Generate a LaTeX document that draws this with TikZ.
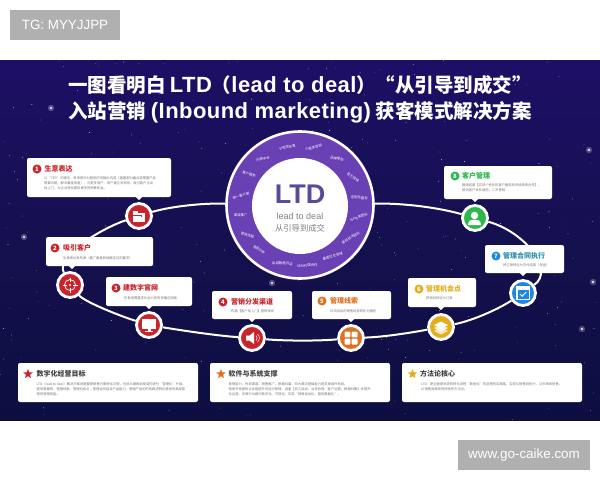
\documentclass[tikz,border=0pt]{standalone}
\usepackage{fontspec}
\usetikzlibrary{calc,shapes.geometric}
\setmainfont{Noto Sans CJK SC}
\newfontfamily\lat{Liberation Sans}
\newfontfamily\latwide[LetterSpace=2]{Liberation Sans}
\newcommand{\titlelat}[1]{{\latwide\fontsize{22}{24}\selectfont #1}}

\definecolor{nightTop}{HTML}{1D0F66}
\definecolor{nightMid}{HTML}{15104F}
\definecolor{nightLow}{HTML}{0C0E40}
\definecolor{ringPurple}{HTML}{6A41B4}
\definecolor{logoPurple}{HTML}{5A4A9C}
\definecolor{markGray}{HTML}{B0B0B0}
\definecolor{bodyGray}{HTML}{777777}
\definecolor{redC}{HTML}{C9242B}
\definecolor{orangeC}{HTML}{E0701F}
\definecolor{yellowC}{HTML}{E3AE1B}
\definecolor{blueC}{HTML}{1E88E0}
\definecolor{tealC}{HTML}{2A8FA8}
\definecolor{greenC}{HTML}{2DB84C}

\tikzset{
	headline/.style={text=white, font=\fontsize{19.5}{24}\bfseries\selectfont, inner sep=0},
	stepdot/.style={circle, draw=white, line width=2.8pt, minimum size=25, inner sep=0},
	ringline/.style={white, line width=2pt},
	card/.style={fill=white, rounded corners=2, inner sep=0},
	badge/.style={circle, minimum size=9, inner sep=0, text=white, font=\fontsize{6}{6}\bfseries\selectfont},
	cardtitle/.style={anchor=west, inner sep=0, font=\fontsize{7}{8}\bfseries\selectfont},
	cardbody/.style={anchor=west, align=left, inner sep=0, text=bodyGray, font=\fontsize{3.3}{5}\selectfont},
	ringword/.style={text=white, inner sep=0, font=\fontsize{3.4}{3.4}\selectfont},
	notestar/.style={star, star points=5, star point ratio=2.3, minimum size=10, inner sep=0},
	sidemark/.style={fill=markGray, text=white, inner sep=0, font=\lat\fontsize{13.4}{13.4}\selectfont}
}

\begin{document}
\begin{tikzpicture}[x=1pt,y=-1pt]
	\useasboundingbox (0,0) rectangle (600,480);

	% night sky
	\shade[top color=nightTop, bottom color=nightMid] (0,60) rectangle (600,240);
	\shade[top color=nightMid, bottom color=nightLow] (0,240) rectangle (600,420);
	\pgfmathsetseed{11}
	\foreach \i in {1,...,260} {
		\pgfmathsetmacro{\sx}{rnd*600}
		\pgfmathsetmacro{\sy}{60+rnd*360}
		\pgfmathsetmacro{\so}{0.25+rnd*0.55}
		\fill[white, opacity=\so] (\sx,\sy) circle (0.45);
	}
	\foreach \sx/\sy in {51/108, 24/237, 593/282, 582/329, 589/150, 272/283} {
		\fill[white, opacity=0.25] (\sx,\sy) circle (3.2);
		\fill[white, opacity=0.8] (\sx,\sy) circle (1.3);
	}

	% watermarks
	\node[sidemark, minimum width=110, minimum height=30] (tagmark) at (65,25) {TG: MYYJJPP};
	\node[sidemark, minimum width=132, minimum height=30] (sitemark) at (524,455) {www.go-caike.com};

	% title
	\node[headline] (title1) at (300,85) {一图看明白 \titlelat{LTD}（\titlelat{lead to deal}）“从引导到成交"};
	\node[headline] (title2) at (300,112) {入站营销 \titlelat{(Inbound marketing)} 获客模式解决方案};

	% hub
	\node[circle, fill=ringPurple, draw=white, line width=2.6pt, minimum size=147, inner sep=0] (hub) at (300,205) {};
	\node[circle, fill=white, minimum size=96, inner sep=0] (hubcore) at (300,206) {};
	\node[inner sep=0, text=logoPurple, font=\lat\fontsize{27}{27}\bfseries\selectfont] (logo) at (300,194) {LTD};
	\node[inner sep=0, text=gray, font=\lat\fontsize{9}{9}\selectfont] (leadword) at (300,216) {lead to deal};
	\node[inner sep=0, text=gray, font=\fontsize{8.3}{9}\selectfont] (hubword) at (300,228) {从引导到成交};
	\foreach \ang/\rot/\word in {
		102/10/VI视觉形象, 77/15/小程序官网, 52/-15/品牌策划, 28/-35/官方领域,
		8/-5/定制化服务, -11/20/VIP专家团队, -32/30/高校技术团队, -57/15/垂直社交领域,
		-83/3/SEM代理合作, -107/-3/私域数据沉淀, -133/-35/竞品分析, -151/-15/营销流程,
		-171/0/渠道推广, 170/15/统一客户端, 148/-15/客户服务, 128/10/内容中台
	} {
		\node[ringword, rotate=\rot] at ($(hubcore)+(\ang:60pt)$) {\word};
	}

	% steps on the ring
	\node[stepdot, fill=redC] (dot1) at (139,216) {};
	\node[stepdot, fill=redC] (dot2) at (70,285) {};
	\node[stepdot, fill=redC] (dot3) at (149,325) {};
	\node[stepdot, fill=redC] (dot4) at (252,338) {};
	\node[stepdot, fill=orangeC] (dot5) at (351,338) {};
	\node[stepdot, fill=yellowC] (dot6) at (441,327) {};
	\node[stepdot, fill=blueC] (dot7) at (523,293) {};
	\node[stepdot, fill=greenC] (dot8) at (475,218) {};

	\draw[ringline] (hub) .. controls (195,203) and (165,208) .. (dot1);
	\draw[ringline] (dot1) .. controls (105,227) and (55,255) .. (dot2);
	\draw[ringline] (dot2) .. controls (85,302) and (120,316) .. (dot3);
	\draw[ringline] (dot3) .. controls (185,331) and (220,336) .. (dot4);
	\draw[ringline] (dot4) .. controls (285,341) and (320,341) .. (dot5);
	\draw[ringline] (dot5) .. controls (385,337) and (415,332) .. (dot6);
	\draw[ringline] (dot6) .. controls (475,320) and (500,308) .. (dot7);
	\draw[ringline] (dot7) .. controls (555,270) and (525,232) .. (dot8);
	\draw[ringline] (dot8) .. controls (440,208) and (405,203) .. (hub);

	% icons
	\begin{scope}[shift={(dot1)}]
		\fill[white] (-6,-5) rectangle (-1,-3);
		\fill[white] (-6,-3.5) rectangle (6,5.5);
		\draw[redC, line width=0.6pt] (-6,-1) -- (2,-1) -- (2,1);
	\end{scope}
	\begin{scope}[shift={(dot2)}]
		\draw[white, line width=0.7pt] (0,0) circle (5.5);
		\fill[white] (0,0) circle (1.2);
		\draw[white, line width=0.7pt] (-7.5,0) -- (-3,0) (3,0) -- (7.5,0) (0,-7.5) -- (0,-3) (0,3) -- (0,7.5);
	\end{scope}
	\begin{scope}[shift={(dot3)}]
		\fill[white] (-7,-6) rectangle (7,3.5);
		\fill[white] (-1.5,3.5) rectangle (1.5,6);
		\fill[white] (-4,5.5) rectangle (4,6.5);
	\end{scope}
	\begin{scope}[shift={(dot4)}]
		\fill[white] (-6,-2.5) -- (-2.5,-2.5) -- (2,-6) -- (2,6) -- (-2.5,2.5) -- (-6,2.5) -- cycle;
		\draw[white, line width=0.5pt] (4,-2.5) .. controls (5.5,-1) and (5.5,1) .. (4,2.5);
		\draw[white, line width=0.5pt] (5.5,-4) .. controls (8,-1.5) and (8,1.5) .. (5.5,4);
	\end{scope}
	\begin{scope}[shift={(dot5)}]
		\foreach \qx/\qy in {-6.5/-6.5, 0.7/-6.5, -6.5/0.7, 0.7/0.7} {
			\fill[white, rounded corners=0.8] (\qx,\qy) rectangle ++(5.8,5.8);
		}
	\end{scope}
	\begin{scope}[shift={(dot6)}]
		\foreach \ly/\lo in {4/0.7, 1/0.85, -2/1} {
			\fill[white, opacity=\lo] (-7,\ly) -- (0,\ly-3.5) -- (7,\ly) -- (0,\ly+3.5) -- cycle;
		}
	\end{scope}
	\begin{scope}[shift={(dot7)}]
		\fill[white] (-7,-7) rectangle (7,7);
		\fill[blueC] (-5.5,-3.5) rectangle (5.5,5.5);
		\draw[white, line width=0.9pt] (-3,1) -- (-0.8,3.2) -- (3.2,-1);
	\end{scope}
	\begin{scope}[shift={(dot8)}]
		\fill[white] (-0.5,-2.5) circle (3.7);
		\fill[white] (-7,7) .. controls (-7,2) and (-3,1.5) .. (-0.5,1.5) .. controls (2,1.5) and (6,2) .. (6,7) -- cycle;
	\end{scope}

	% cards with their tips
	\node[card, minimum width=144, minimum height=39] (card1) at (99,177.5) {};
	\fill[white] (136,197) -- (139,200) -- (142,197) -- cycle;
	\node[badge, fill=redC] (num1) at (37,169) {1};
	\node[cardtitle, text=redC] (head1) at (44.5,169) {生意表达};
	\node[cardbody] (text1) at (44,183) {以“TED”的理念，来来基分对营销方向输出内容（遇遇密对痛点或需要产品\\需要问题，解决最佳用者），与更多用户、用户建立关系网，吸引客户主动\\找上门，为企业转化提供更多的销售机会。};

	\node[card, minimum width=107, minimum height=29] (card2) at (99.5,251.5) {};
	\fill[white] (69,266) -- (72,269) -- (75,266) -- cycle;
	\node[badge, fill=redC] (num2) at (55,248) {2};
	\node[cardtitle, text=redC] (head2) at (63,248) {吸引客户};
	\node[cardbody] (text2) at (63,258) {生意表达发布表（推广最基的地推定位的要求）};

	\node[card, minimum width=86, minimum height=29] (card3) at (149,291.5) {};
	\fill[white] (146,306) -- (149,309) -- (152,306) -- cycle;
	\node[badge, fill=redC] (num3) at (116,288) {3};
	\node[cardtitle, text=redC] (head3) at (123,288) {建数字官网};
	\node[cardbody] (text3) at (124,298) {形象但需要求化后力的有传播正网络};

	\node[card, minimum width=80, minimum height=28] (card4) at (252,305) {};
	\fill[white] (249,319) -- (252,322) -- (255,319) -- cycle;
	\node[badge, fill=redC] (num4) at (223,302) {4};
	\node[cardtitle, text=redC] (head4) at (231,302) {营销分发渠道};
	\node[cardbody] (text4) at (231,311) {构建【客户找上门】营销体系};

	\node[card, minimum width=79, minimum height=28] (card5) at (351.5,305) {};
	\fill[white] (348,319) -- (351,322) -- (354,319) -- cycle;
	\node[badge, fill=orangeC] (num5) at (322,301) {5};
	\node[cardtitle, text=orangeC] (head5) at (330,301) {管理线索};
	\node[cardbody] (text5) at (330,311) {对流流品的销售培育转化为图机};

	\node[card, minimum width=68, minimum height=29] (card6) at (442,292.5) {};
	\fill[white] (438,307) -- (441,310) -- (444,307) -- cycle;
	\node[badge, fill=yellowC] (num6) at (419,289) {6};
	\node[cardtitle, text=yellowC] (head6) at (426,289) {管理机会点};
	\node[cardbody] (text6) at (426,298) {把商机转化为订单};

	\node[card, minimum width=79, minimum height=28] (card7) at (524.5,259) {};
	\fill[white] (520,273) -- (523,276) -- (526,273) -- cycle;
	\node[badge, fill=blueC] (num7) at (496,256) {7};
	\node[cardtitle, text=tealC] (head7) at (503,256) {管理合同执行};
	\node[cardbody] (text7) at (503,265) {把订单转化为交付结果（现金）};

	\node[card, minimum width=108, minimum height=33] (card8) at (498,182.5) {};
	\fill[white] (472,199) -- (475,202) -- (478,199) -- cycle;
	\node[badge, fill=greenC] (num8) at (455,176) {8};
	\node[cardtitle, text=greenC] (head8) at (462,176) {客户管理};
	\node[cardbody] (text8) at (462,188) {跟随结果【实现个性化的客户服务和持续效率合作】，\\提供客户关系增购，二次营销…};

	% bottom notes
	\node[card, minimum width=180, minimum height=39] (note1) at (108,382.5) {};
	\node[notestar, fill=redC] (star1) at (28,374) {};
	\node[cardtitle, text=black!75] (notehead1) at (36.5,374) {数字化经营目标};
	\node[cardbody] (notetext1) at (36.5,389.5) {LTD（lead to deal）解决方案就是要按销售方案转化过程，也就从搜索到找到的进行“管理化”升级，\\提供数据传，管理线索、管理机会点，管理合同结合产品能力，管理产品的的的跟进转化落地的高层管\\理的管理效能。};

	\node[card, minimum width=180, minimum height=39] (note2) at (300,382.5) {};
	\node[notestar, fill=orangeC] (star2) at (221,374) {};
	\node[cardtitle, text=black!75] (notehead2) at (228.5,374) {软件与系统支撑};
	\node[cardbody] (notetext2) at (228.5,389.5) {营销能力、传统渠道、销售推广、数据归属、四大数字基础能力是支撑组件系统。\\帮助开发提供企业能提升的运行管理、涵盖【员工培训、业务协同、客户运营、数据归集】并提升\\化运营、支撑行为路行数字化、可视化、实现“销售自动化、服务数据化”。};

	\node[card, minimum width=180, minimum height=39] (note3) at (492,382.5) {};
	\node[notestar, fill=yellowC] (star3) at (412.5,374) {};
	\node[cardtitle, text=black!75] (notehead3) at (420,374) {方法论核心};
	\node[cardbody] (notetext3) at (421,387) {LTD：更全面更系统的转化流程“数智化”的流程的实践路、实现从销售到执行，从市场到销售、\\从销售到高效的持续作方法论。};
\end{tikzpicture}
\end{document}
